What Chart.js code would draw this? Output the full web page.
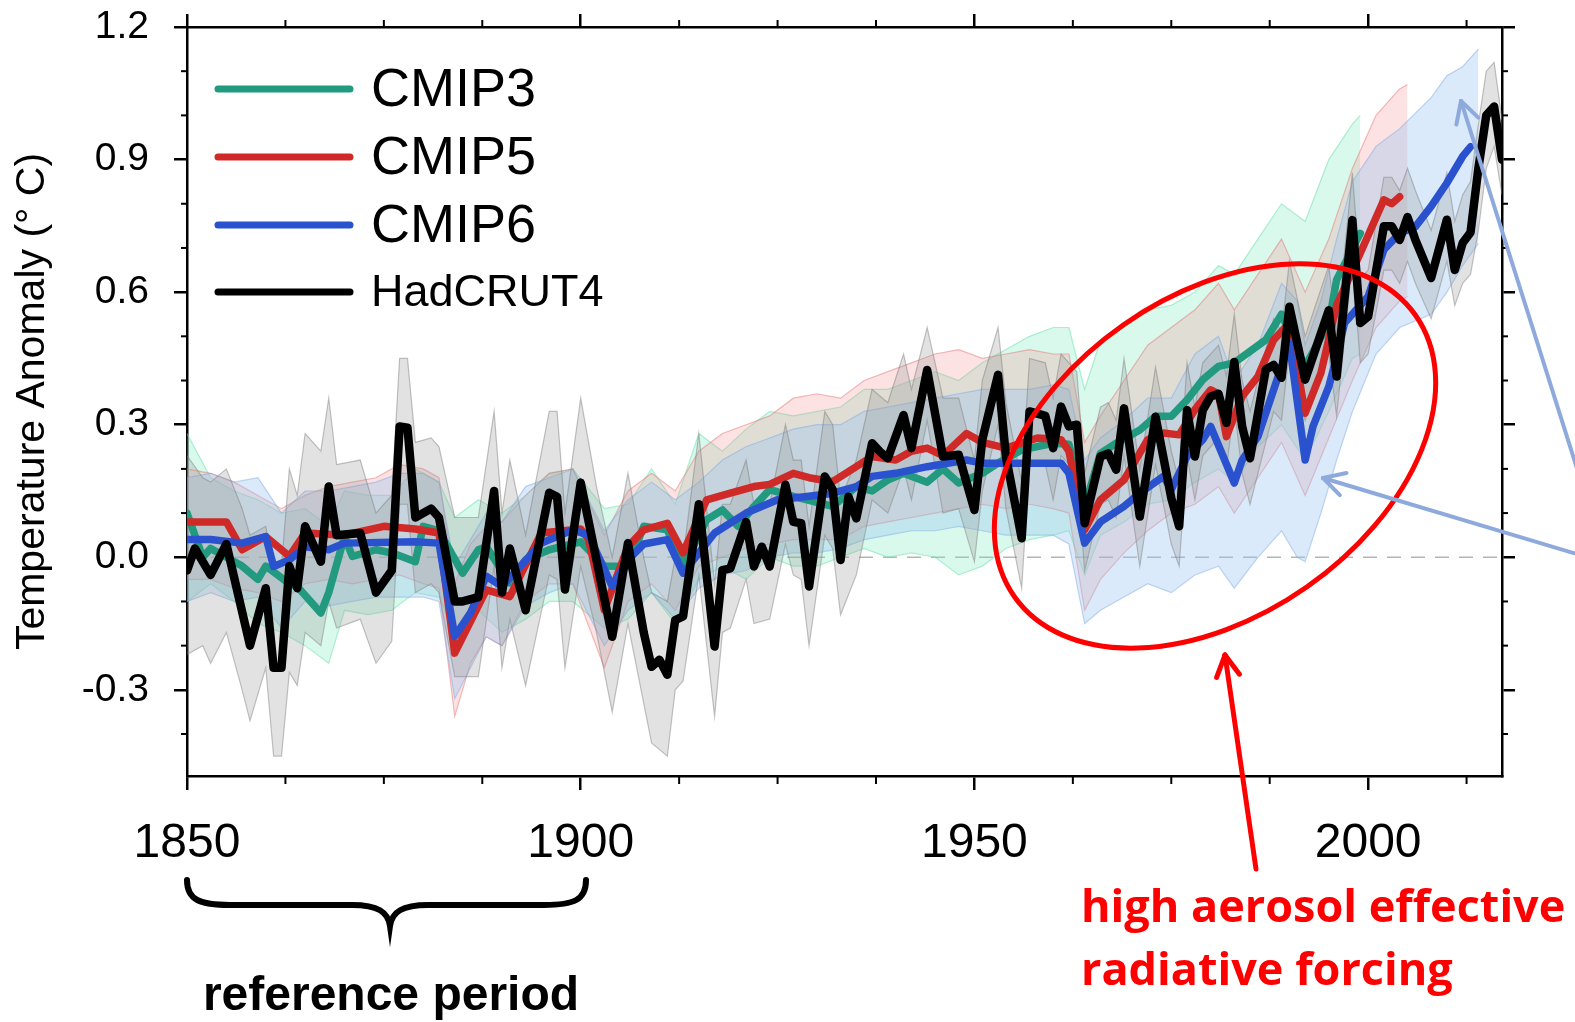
<!DOCTYPE html>
<html>
<head>
<meta charset="utf-8">
<title>Temperature anomaly: CMIP3 / CMIP5 / CMIP6 vs HadCRUT4</title>
<script src="https://cdn.jsdelivr.net/npm/chart.js@4.4.1/dist/chart.umd.min.js"></script>
<style>
    html, body { margin: 0; padding: 0; background: #fff; }
    #wrap { width: 1575px; height: 1022px; position: relative; }
</style>
</head>
<body>
<div id="wrap"><canvas id="tempChart" width="1575" height="1022"></canvas></div>
<script>
// ---- axis ticks ----
const xTickLabels = [1850, 1900, 1950, 2000];
const xMinorTicks = [1862.5, 1875, 1887.5, 1912.5, 1925, 1937.5, 1962.5, 1975, 1987.5, 2012.5];
const yTickLabels = [-0.3, 0.0, 0.3, 0.6, 0.9, 1.2];
const yMinorTicks = [-0.4, -0.2, -0.1, 0.1, 0.2, 0.4, 0.5, 0.7, 0.8, 1.0, 1.1];

// ---- HadCRUT4 observations ----
const hadYears = [1850, 1851, 1853, 1855, 1858, 1860, 1861, 1862, 1863, 1864, 1865, 1867, 1868, 1869, 1872, 1874, 1876, 1877, 1878, 1879,
    1881, 1882, 1884, 1885, 1887, 1889, 1890, 1891, 1893, 1896, 1897, 1898, 1900, 1902, 1904, 1906, 1908, 1909, 1910, 1911,
    1912, 1913, 1915, 1917, 1918, 1919, 1921, 1922, 1923, 1924, 1926, 1927, 1928, 1929, 1931, 1932, 1933, 1934, 1935, 1937,
    1938, 1939, 1941, 1942, 1944, 1946, 1948, 1950, 1951, 1953, 1954, 1956, 1957, 1959, 1960, 1961, 1962, 1963, 1964, 1966,
    1967, 1968, 1969, 1971, 1973, 1975, 1976, 1977, 1978, 1979, 1980, 1981, 1982, 1983, 1984, 1985, 1987, 1988, 1989, 1990,
    1992, 1995, 1996, 1998, 1999, 2000, 2002, 2003, 2004, 2005, 2006, 2008, 2010, 2011, 2012, 2013, 2014, 2015, 2016, 2017];
const hadValues = [-0.03, 0.02, -0.04, 0.03, -0.20, -0.07, -0.25, -0.25, -0.02, -0.07, 0.07, -0.01, 0.16, 0.05, 0.055, -0.08, -0.03, 0.296, 0.293, 0.09,
    0.11, 0.09, -0.10, -0.10, -0.09, 0.15, -0.08, 0.02, -0.12, 0.146, 0.137, -0.073, 0.169, -0.006, -0.18, 0.032, -0.17, -0.248, -0.232, -0.266,
    -0.142, -0.134, 0.12, -0.202, -0.029, -0.025, 0.08, -0.021, 0.024, -0.021, 0.164, 0.08, 0.077, -0.066, 0.183, 0.153, -0.006, 0.137, 0.088, 0.258,
    0.239, 0.224, 0.322, 0.247, 0.424, 0.228, 0.232, 0.107, 0.266, 0.413, 0.228, 0.043, 0.33, 0.32, 0.247, 0.341, 0.296, 0.30, 0.077, 0.228,
    0.235, 0.198, 0.337, 0.092, 0.318, 0.134, 0.07, 0.333, 0.228, 0.333, 0.364, 0.37, 0.304, 0.442, 0.296, 0.224, 0.425, 0.435, 0.406, 0.567,
    0.402, 0.559, 0.409, 0.763, 0.53, 0.545, 0.749, 0.749, 0.718, 0.77, 0.718, 0.632, 0.764, 0.65, 0.711, 0.735, 0.88, 1.00, 1.02, 0.90];

const hadBandYears = [1850, 1852, 1853, 1855, 1857, 1858, 1860, 1861, 1862, 1863, 1864, 1865, 1867, 1868, 1869, 1872, 1874, 1876, 1877, 1878,
    1879, 1881, 1882, 1884, 1887, 1889, 1890, 1891, 1893, 1896, 1897, 1898, 1900, 1902, 1904, 1906, 1908, 1909, 1911, 1912,
    1913, 1915, 1917, 1918, 1919, 1921, 1922, 1924, 1926, 1927, 1928, 1929, 1931, 1932, 1933, 1935, 1937, 1939, 1941, 1942,
    1944, 1946, 1948, 1950, 1951, 1953, 1954, 1956, 1957, 1959, 1960, 1961, 1963, 1964, 1966, 1967, 1968, 1969, 1971, 1973,
    1975, 1976, 1977, 1978, 1979, 1981, 1982, 1983, 1984, 1985, 1988, 1989, 1990, 1992, 1995, 1996, 1998, 1999, 2000, 2002,
    2003, 2004, 2005, 2006, 2008, 2010, 2011, 2012, 2013, 2014, 2015, 2016, 2017];
const hadUpper = [0.23, 0.18, 0.17, 0.20, 0.11, 0.05, 0.07, -0.02, -0.02, 0.20, 0.14, 0.28, 0.24, 0.36, 0.21, 0.22, 0.10, 0.14, 0.45, 0.45,
    0.26, 0.27, 0.25, 0.09, 0.09, 0.33, 0.10, 0.22, 0.05, 0.33, 0.33, 0.10, 0.36, 0.16, 0.00, 0.19, 0.00, -0.08, -0.10, 0.00,
    0.00, 0.28, -0.06, 0.12, 0.12, 0.22, 0.12, 0.12, 0.30, 0.22, 0.22, 0.07, 0.33, 0.30, 0.13, 0.22, 0.38, 0.35, 0.46, 0.38,
    0.52, 0.36, 0.36, 0.22, 0.40, 0.52, 0.35, 0.17, 0.45, 0.44, 0.36, 0.46, 0.42, 0.19, 0.34, 0.35, 0.31, 0.45, 0.20, 0.43,
    0.24, 0.17, 0.44, 0.34, 0.44, 0.48, 0.41, 0.55, 0.40, 0.33, 0.54, 0.51, 0.67, 0.50, 0.66, 0.51, 0.87, 0.63, 0.65, 0.86,
    0.86, 0.83, 0.88, 0.83, 0.74, 0.87, 0.76, 0.82, 0.85, 0.98, 1.10, 1.12, 0.99];
const hadLower = [-0.22, -0.20, -0.24, -0.17, -0.30, -0.37, -0.25, -0.45, -0.45, -0.26, -0.29, -0.17, -0.20, -0.10, -0.16, -0.14, -0.24, -0.19, 0.12, 0.12,
    -0.08, -0.06, -0.08, -0.27, -0.27, -0.02, -0.25, -0.14, -0.29, -0.04, -0.05, -0.25, -0.02, -0.17, -0.35, -0.15, -0.33, -0.42, -0.45, -0.30,
    -0.28, -0.04, -0.36, -0.17, -0.16, -0.05, -0.15, -0.14, 0.03, -0.04, -0.05, -0.20, 0.05, 0.02, -0.13, -0.04, 0.13, 0.10, 0.20, 0.13,
    0.31, 0.10, 0.11, -0.01, 0.15, 0.30, 0.11, -0.07, 0.22, 0.21, 0.13, 0.23, 0.19, -0.03, 0.12, 0.13, 0.09, 0.23, -0.02, 0.21,
    0.03, -0.02, 0.23, 0.13, 0.23, 0.27, 0.20, 0.34, 0.19, 0.12, 0.33, 0.31, 0.47, 0.31, 0.46, 0.32, 0.67, 0.44, 0.46, 0.65,
    0.65, 0.62, 0.67, 0.62, 0.54, 0.67, 0.57, 0.62, 0.64, 0.74, 0.88, 0.93, 0.82];

// ---- CMIP3 ensemble mean and spread ----
const cmip3Years = [1850, 1852, 1853, 1857, 1859, 1860, 1863, 1864, 1867, 1868, 1870, 1871, 1874, 1876, 1879, 1880, 1882, 1885, 1887, 1888,
    1891, 1893, 1896, 1900, 1903, 1906, 1908, 1911, 1913, 1916, 1918, 1920, 1922, 1924, 1927, 1932, 1935, 1937, 1939, 1941,
    1944, 1946, 1948, 1951, 1953, 1956, 1960, 1962, 1964, 1966, 1968, 1971, 1973, 1975, 1977, 1979, 1981, 1983, 1987, 1989,
    1991, 1992, 1995, 1996, 1999];
const cmip3Values = [0.10, 0.00, 0.02, -0.02, -0.05, -0.02, -0.06, -0.066, -0.126, -0.08, 0.047, 0.002, 0.017, 0.01, -0.01, 0.07, 0.06, -0.036, 0.017, 0.024,
    -0.058, -0.006, 0.017, 0.035, -0.02, -0.021, 0.07, 0.062, -0.021, 0.085, 0.107, 0.07, 0.115, 0.153, 0.138, 0.115, 0.16, 0.15, 0.175, 0.19,
    0.17, 0.20, 0.168, 0.19, 0.213, 0.243, 0.258, 0.256, 0.115, 0.235, 0.258, 0.288, 0.319, 0.319, 0.356, 0.402, 0.432, 0.44, 0.492, 0.55,
    0.469, 0.432, 0.53, 0.628, 0.733];
const cmip3BandYears = [1850, 1853, 1856, 1859, 1862, 1865, 1868, 1870, 1873, 1876, 1879, 1882, 1884, 1887, 1890, 1893, 1896, 1899, 1903, 1906,
    1909, 1912, 1915, 1918, 1921, 1924, 1927, 1930, 1933, 1936, 1939, 1942, 1945, 1948, 1951, 1954, 1957, 1960, 1962, 1964,
    1966, 1969, 1972, 1975, 1978, 1981, 1983, 1986, 1989, 1992, 1995, 1998, 1999];
const cmip3Upper = [0.28, 0.18, 0.15, 0.13, 0.10, 0.11, 0.07, 0.15, 0.14, 0.14, 0.20, 0.17, 0.09, 0.13, 0.10, 0.14, 0.19, 0.20, 0.11, 0.12,
    0.20, 0.12, 0.28, 0.24, 0.29, 0.33, 0.32, 0.33, 0.34, 0.38, 0.38, 0.40, 0.42, 0.40, 0.44, 0.47, 0.50, 0.52, 0.52, 0.38,
    0.49, 0.52, 0.56, 0.57, 0.60, 0.66, 0.64, 0.72, 0.80, 0.76, 0.90, 0.98, 1.00];
const cmip3Lower = [-0.10, -0.06, -0.10, -0.15, -0.17, -0.20, -0.24, -0.12, -0.13, -0.12, -0.08, -0.09, -0.17, -0.12, -0.17, -0.14, -0.10, -0.10, -0.16, -0.14,
    -0.08, -0.15, -0.05, -0.02, -0.05, 0.00, -0.02, -0.02, 0.00, 0.02, 0.00, 0.01, 0.00, -0.04, -0.02, 0.02, 0.04, 0.05, 0.06, -0.04,
    0.05, 0.08, 0.12, 0.13, 0.17, 0.20, 0.17, 0.25, 0.30, 0.22, 0.33, 0.45, 0.46];

// ---- CMIP5 ensemble mean and spread ----
const cmip5Years = [1850, 1855, 1857, 1860, 1863, 1865, 1870, 1875, 1879, 1882, 1884, 1888, 1891, 1895, 1900, 1901, 1903, 1906, 1908, 1911,
    1913, 1916, 1919, 1922, 1924, 1927, 1929, 1932, 1935, 1937, 1940, 1942, 1944, 1946, 1949, 1951, 1954, 1958, 1961, 1962,
    1964, 1966, 1969, 1972, 1974, 1976, 1978, 1980, 1981, 1982, 1984, 1986, 1988, 1990, 1992, 1994, 1996, 1999, 2002, 2003,
    2004];
const cmip5Values = [0.08, 0.08, 0.017, 0.047, 0.002, 0.055, 0.05, 0.07, 0.064, 0.055, -0.217, -0.074, -0.089, 0.055, 0.064, 0.04, -0.119, 0.024, 0.062, 0.077,
    0.01, 0.13, 0.145, 0.16, 0.165, 0.19, 0.18, 0.171, 0.205, 0.228, 0.22, 0.24, 0.247, 0.23, 0.28, 0.26, 0.247, 0.27, 0.266, 0.24,
    0.062, 0.13, 0.175, 0.266, 0.281, 0.277, 0.334, 0.379, 0.37, 0.273, 0.364, 0.409, 0.492, 0.53, 0.326, 0.417, 0.57, 0.688, 0.809, 0.80,
    0.816];
const cmip5BandYears = [1850, 1853, 1856, 1859, 1862, 1865, 1868, 1871, 1874, 1877, 1880, 1882, 1884, 1886, 1888, 1890, 1893, 1896, 1899, 1903,
    1906, 1909, 1912, 1915, 1918, 1921, 1924, 1927, 1930, 1933, 1936, 1939, 1942, 1945, 1948, 1951, 1954, 1957, 1960, 1962,
    1964, 1966, 1969, 1972, 1975, 1978, 1981, 1983, 1986, 1989, 1992, 1995, 1998, 2001, 2004, 2005];
const cmip5Upper = [0.20, 0.19, 0.17, 0.14, 0.11, 0.14, 0.16, 0.17, 0.18, 0.21, 0.20, 0.18, -0.06, 0.03, 0.07, 0.08, 0.14, 0.19, 0.20, 0.05,
    0.15, 0.19, 0.15, 0.24, 0.28, 0.30, 0.32, 0.36, 0.37, 0.36, 0.40, 0.42, 0.44, 0.46, 0.47, 0.45, 0.46, 0.47, 0.46, 0.46,
    0.26, 0.32, 0.40, 0.48, 0.52, 0.56, 0.62, 0.56, 0.64, 0.72, 0.60, 0.72, 0.88, 1.00, 1.06, 1.07];
const cmip5Lower = [-0.05, -0.05, -0.07, -0.08, -0.10, -0.06, -0.05, -0.06, -0.05, -0.04, -0.06, -0.07, -0.36, -0.24, -0.18, -0.20, -0.10, -0.06, -0.06, -0.25,
    -0.10, -0.06, -0.12, -0.02, 0.00, 0.02, 0.03, 0.04, 0.04, 0.04, 0.07, 0.08, 0.09, 0.10, 0.11, 0.12, 0.11, 0.12, 0.11, 0.10,
    -0.12, -0.05, 0.01, 0.06, 0.10, 0.12, 0.16, 0.10, 0.18, 0.26, 0.14, 0.27, 0.40, 0.52, 0.58, 0.59];

// ---- CMIP6 ensemble mean and spread ----
const cmip6Years = [1850, 1853, 1857, 1860, 1861, 1863, 1865, 1868, 1870, 1879, 1882, 1884, 1886, 1888, 1890, 1895, 1897, 1899, 1901, 1904,
    1906, 1908, 1911, 1913, 1915, 1917, 1921, 1925, 1929, 1932, 1935, 1937, 1940, 1944, 1949, 1951, 1954, 1958, 1961, 1962,
    1964, 1966, 1969, 1971, 1974, 1975, 1977, 1979, 1980, 1983, 1984, 1986, 1988, 1990, 1992, 1993, 1995, 1996, 1997, 2000,
    2002, 2004, 2006, 2008, 2010, 2012, 2013];
const cmip6Values = [0.04, 0.04, 0.032, 0.047, -0.021, -0.006, 0.024, 0.017, 0.032, 0.035, 0.032, -0.179, -0.126, -0.043, -0.066, 0.032, 0.047, 0.062, 0.05, -0.066,
    -0.006, 0.03, 0.04, -0.036, 0.01, 0.055, 0.10, 0.13, 0.138, 0.145, 0.16, 0.183, 0.19, 0.205, 0.22, 0.213, 0.213, 0.213, 0.213, 0.19,
    0.032, 0.08, 0.115, 0.145, 0.183, 0.153, 0.228, 0.266, 0.296, 0.168, 0.22, 0.273, 0.379, 0.485, 0.22, 0.296, 0.386, 0.454, 0.53, 0.59,
    0.696, 0.733, 0.748, 0.794, 0.847, 0.907, 0.929];
const cmip6BandYears = [1850, 1853, 1856, 1859, 1862, 1865, 1868, 1871, 1874, 1877, 1880, 1882, 1884, 1886, 1888, 1890, 1893, 1896, 1899, 1903,
    1906, 1909, 1912, 1915, 1918, 1921, 1924, 1927, 1930, 1933, 1936, 1939, 1942, 1945, 1948, 1951, 1954, 1957, 1960, 1962,
    1964, 1966, 1969, 1972, 1975, 1978, 1981, 1983, 1986, 1989, 1991, 1992, 1994, 1996, 1998, 2001, 2004, 2008, 2010, 2012,
    2014];
const cmip6Upper = [0.18, 0.19, 0.17, 0.18, 0.10, 0.15, 0.15, 0.16, 0.17, 0.19, 0.19, 0.17, -0.02, 0.04, 0.10, 0.08, 0.16, 0.18, 0.20, 0.06,
    0.13, 0.17, 0.13, 0.17, 0.22, 0.25, 0.27, 0.29, 0.30, 0.30, 0.33, 0.34, 0.35, 0.36, 0.37, 0.38, 0.38, 0.38, 0.39, 0.38,
    0.22, 0.27, 0.31, 0.36, 0.36, 0.46, 0.50, 0.40, 0.48, 0.62, 0.58, 0.48, 0.58, 0.72, 0.85, 0.93, 0.97, 1.04, 1.09, 1.11,
    1.15];
const cmip6Lower = [-0.10, -0.08, -0.10, -0.09, -0.16, -0.10, -0.11, -0.10, -0.09, -0.09, -0.09, -0.10, -0.32, -0.25, -0.18, -0.20, -0.11, -0.08, -0.06, -0.20,
    -0.12, -0.08, -0.14, -0.07, -0.04, -0.03, 0.00, 0.01, 0.01, 0.02, 0.04, 0.05, 0.06, 0.06, 0.07, 0.06, 0.05, 0.05, 0.05, 0.03,
    -0.15, -0.12, -0.09, -0.06, -0.08, -0.04, -0.02, -0.07, 0.00, 0.06, 0.00, -0.01, 0.10, 0.22, 0.33, 0.46, 0.52, 0.55, 0.60, 0.66,
    0.71];

const zeroLineYears = [1850, 2017];
const zeroLineValues = [0, 0];

const FONT = "'Liberation Sans', Arial, Helvetica, sans-serif";

function toPoints(xs, ys) {
    return xs.map((x, i) => ({ x: x, y: ys[i] }));
}

function meanLine(label, xs, ys, color, width) {
    return {
        label: label,
        data: toPoints(xs, ys),
        borderColor: color,
        borderWidth: width,
        borderJoinStyle: "round",
        borderCapStyle: "round",
        pointRadius: 0,
        fill: false,
        tension: 0
    };
}

function bandEdge(label, xs, ys, edgeColor, fillColor) {
    return {
        label: label,
        data: toPoints(xs, ys),
        borderColor: edgeColor,
        borderWidth: 1.2,
        backgroundColor: fillColor,
        pointRadius: 0,
        fill: fillColor ? "+1" : false,
        tension: 0
    };
}

// keep the plot box where the reference has it (no extra label overflow padding)
function fixBox(size, dim) {
    return scale => {
        scale[dim] = size;
        scale.paddingTop = 0;
        scale.paddingBottom = 0;
        scale.paddingLeft = 0;
        scale.paddingRight = 0;
    };
}

// draws minor ticks, the legend and the hand-drawn annotations on top
const annotationPlugin = {
    id: "annotations",
    afterDraw(chart) {
        const ctx = chart.ctx;
        const xs = chart.scales.x;
        const ys = chart.scales.y;
        const area = chart.chartArea;

        function seg(x1, y1, x2, y2) {
            ctx.beginPath();
            ctx.moveTo(x1, y1);
            ctx.lineTo(x2, y2);
            ctx.stroke();
        }

        function arrow(x1, y1, x2, y2, color, width, head) {
            ctx.strokeStyle = color;
            ctx.lineWidth = width;
            ctx.lineCap = "round";
            seg(x1, y1, x2, y2);
            const ang = Math.atan2(y2 - y1, x2 - x1);
            const spread = 0.5;
            seg(x2, y2, x2 - head * Math.cos(ang - spread), y2 - head * Math.sin(ang - spread));
            seg(x2, y2, x2 - head * Math.cos(ang + spread), y2 - head * Math.sin(ang + spread));
        }

        ctx.save();

        // minor tick marks on all four sides
        ctx.strokeStyle = "#000";
        ctx.lineWidth = 2;
        xMinorTicks.forEach(v => {
            const px = xs.getPixelForValue(v);
            seg(px, area.bottom, px, area.bottom + 8);
            seg(px, area.top, px, area.top - 7);
        });
        yMinorTicks.forEach(v => {
            const py = ys.getPixelForValue(v);
            seg(area.left - 6, py, area.left, py);
            seg(area.right, py, area.right + 6, py);
        });

        // legend
        const legendItems = [
            { text: "CMIP3", color: "#229a7f", y: 89, size: 54 },
            { text: "CMIP5", color: "#cf2a27", y: 157, size: 54 },
            { text: "CMIP6", color: "#2a52cf", y: 225, size: 54 },
            { text: "HadCRUT4", color: "#000000", y: 292, size: 45 }
        ];
        ctx.lineCap = "round";
        legendItems.forEach(item => {
            ctx.strokeStyle = item.color;
            ctx.lineWidth = 7;
            seg(218, item.y, 350, item.y);
            ctx.fillStyle = "#000";
            ctx.font = item.size + "px " + FONT;
            ctx.textBaseline = "middle";
            ctx.textAlign = "left";
            ctx.fillText(item.text, 371, item.y + 2);
        });

        // red ellipse around the aerosol period
        ctx.strokeStyle = "#ff0000";
        ctx.lineWidth = 5;
        ctx.beginPath();
        ctx.ellipse(1215, 456, 245, 160, -35 * Math.PI / 180, 0, 2 * Math.PI);
        ctx.stroke();

        // arrows
        arrow(1256, 869, 1225, 655, "#ff0000", 5, 24);
        arrow(1580, 478, 1461, 101, "#8eaadc", 4, 24);
        arrow(1580, 555, 1323, 478, "#8eaadc", 4, 24);

        // brace under the reference period
        ctx.strokeStyle = "#000";
        ctx.lineWidth = 6;
        ctx.lineCap = "round";
        ctx.beginPath();
        ctx.moveTo(187, 880);
        ctx.bezierCurveTo(187, 900, 200, 905, 230, 905);
        ctx.lineTo(352, 905);
        ctx.bezierCurveTo(378, 905, 388, 912, 390, 926);
        ctx.bezierCurveTo(392, 912, 402, 905, 428, 905);
        ctx.lineTo(544, 905);
        ctx.bezierCurveTo(574, 905, 586, 900, 586, 880);
        ctx.stroke();

        // annotation texts
        ctx.textBaseline = "alphabetic";
        ctx.fillStyle = "#000";
        ctx.textAlign = "center";
        ctx.font = "bold 48px " + FONT;
        ctx.fillText("reference period", 391, 1010);

        ctx.fillStyle = "#ff0000";
        ctx.textAlign = "left";
        ctx.font = "bold 45px 'Open Sans', " + FONT;
        ctx.fillText("high aerosol effective", 1081, 922);
        ctx.fillText("radiative forcing", 1081, 985);

        ctx.restore();
    }
};

const datasets = [
    meanLine("HadCRUT4", hadYears, hadValues, "#000000", 8.5),
    meanLine("CMIP6", cmip6Years, cmip6Values, "#2a52cf", 7.5),
    meanLine("CMIP5", cmip5Years, cmip5Values, "#cf2a27", 7.5),
    meanLine("CMIP3", cmip3Years, cmip3Values, "#229a7f", 7.5),
    bandEdge("HadCRUT4 upper", hadBandYears, hadUpper, "rgba(120,120,120,0.45)", "rgba(150,150,150,0.28)"),
    bandEdge("HadCRUT4 lower", hadBandYears, hadLower, "rgba(120,120,120,0.45)", null),
    bandEdge("CMIP6 upper", cmip6BandYears, cmip6Upper, "rgba(130,170,225,0.5)", "rgba(150,195,240,0.35)"),
    bandEdge("CMIP6 lower", cmip6BandYears, cmip6Lower, "rgba(130,170,225,0.5)", null),
    bandEdge("CMIP5 upper", cmip5BandYears, cmip5Upper, "rgba(230,120,120,0.5)", "rgba(245,140,140,0.25)"),
    bandEdge("CMIP5 lower", cmip5BandYears, cmip5Lower, "rgba(230,120,120,0.5)", null),
    bandEdge("CMIP3 upper", cmip3BandYears, cmip3Upper, "rgba(100,225,170,0.5)", "rgba(120,235,185,0.28)"),
    bandEdge("CMIP3 lower", cmip3BandYears, cmip3Lower, "rgba(100,225,170,0.5)", null),
    {
        label: "zero",
        data: toPoints(zeroLineYears, zeroLineValues),
        borderColor: "#b5b5b5",
        borderWidth: 1.5,
        borderDash: [14, 10],
        pointRadius: 0,
        fill: false
    }
];

const axisLine = { display: true, color: "#000", width: 2.5 };

new Chart(document.getElementById("tempChart"), {
    type: "line",
    data: { datasets: datasets },
    options: {
        responsive: false,
        animation: false,
        layout: { padding: 0 },
        plugins: {
            legend: { display: false },
            tooltip: { enabled: false }
        },
        scales: {
            x: {
                type: "linear",
                position: "bottom",
                min: 1850,
                max: 2017,
                afterBuildTicks: scale => { scale.ticks = xTickLabels.map(v => ({ value: v })); },
                afterFit: fixBox(246, "height"),
                border: axisLine,
                grid: { drawOnChartArea: false, drawTicks: true, tickLength: 14, color: "#000", lineWidth: 2.5 },
                ticks: {
                    autoSkip: false,
                    maxRotation: 0,
                    padding: 25,
                    color: "#000",
                    font: { family: FONT, size: 48 },
                    callback: v => String(v)
                }
            },
            xTop: {
                type: "linear",
                position: "top",
                min: 1850,
                max: 2017,
                afterBuildTicks: scale => { scale.ticks = xTickLabels.map(v => ({ value: v })); },
                afterFit: fixBox(27, "height"),
                border: axisLine,
                grid: { drawOnChartArea: false, drawTicks: true, tickLength: 13, color: "#000", lineWidth: 2.5 },
                ticks: { display: false }
            },
            y: {
                type: "linear",
                position: "left",
                min: -0.495,
                max: 1.2,
                afterBuildTicks: scale => { scale.ticks = yTickLabels.map(v => ({ value: v })); },
                afterFit: fixBox(187, "width"),
                border: axisLine,
                grid: { drawOnChartArea: false, drawTicks: true, tickLength: 13, color: "#000", lineWidth: 2.5 },
                ticks: {
                    padding: 25,
                    color: "#000",
                    font: { family: FONT, size: 39 },
                    callback: v => v.toFixed(1)
                },
                title: {
                    display: true,
                    text: "Temperature Anomaly (° C)",
                    color: "#000",
                    font: { family: FONT, size: 41 },
                    padding: { top: 8, bottom: 0 }
                }
            },
            yRight: {
                type: "linear",
                position: "right",
                min: -0.495,
                max: 1.2,
                afterBuildTicks: scale => { scale.ticks = yTickLabels.map(v => ({ value: v })); },
                afterFit: fixBox(73, "width"),
                border: axisLine,
                grid: { drawOnChartArea: false, drawTicks: true, tickLength: 13, color: "#000", lineWidth: 2.5 },
                ticks: { display: false }
            }
        }
    },
    plugins: [annotationPlugin]
});
</script>
</body>
</html>
